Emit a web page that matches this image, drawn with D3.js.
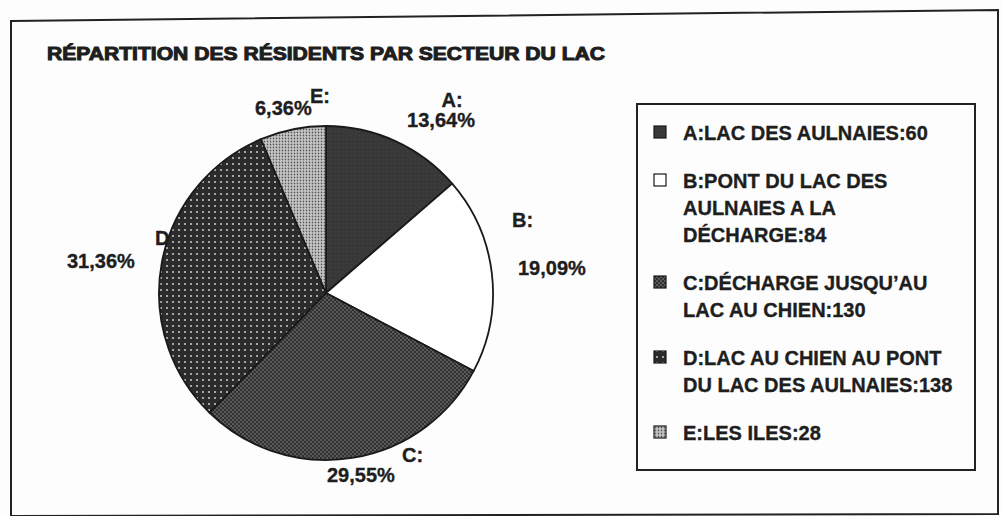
<!DOCTYPE html>
<html>
<head>
<meta charset="utf-8">
<script src="https://cdn.jsdelivr.net/npm/d3@7"></script>
<style>
  body { margin: 0; background: #fdfdfd; }
  text { font-family: "Liberation Sans", Arial, sans-serif; font-weight: bold; fill: #1e1e1e;
         stroke: #1e1e1e; stroke-width: 0.35; }
</style>
</head>
<body>
<div class="canvas"></div>
<script>
// data
const codes = ["A", "B", "C", "D", "E"];
const sectors = ["LAC DES AULNAIES", "PONT DU LAC DES AULNAIES A LA DÉCHARGE",
  "DÉCHARGE JUSQU’AU LAC AU CHIEN", "LAC AU CHIEN AU PONT DU LAC DES AULNAIES", "LES ILES"];
const residents = [60, 84, 130, 138, 28];
const title = "RÉPARTITION DES RÉSIDENTS PAR SECTEUR DU LAC";

const width = 1002, height = 516;
const cx = 326, cy = 293, radius = 167;

const svg = d3.select('.canvas')
  .append('svg')
  .attr('width', width)
  .attr('height', height);

// fill patterns, one per sector
const defs = svg.append('defs');

const pA = defs.append('pattern').attr('id', 'pat-A').attr('patternUnits', 'userSpaceOnUse')
  .attr('width', 4).attr('height', 4);
pA.append('rect').attr('width', 4).attr('height', 4).attr('fill', '#383838');
pA.append('rect').attr('x', 1).attr('y', 2).attr('width', 1).attr('height', 1).attr('fill', '#444');

const pB = defs.append('pattern').attr('id', 'pat-B').attr('patternUnits', 'userSpaceOnUse')
  .attr('width', 4).attr('height', 4);
pB.append('rect').attr('width', 4).attr('height', 4).attr('fill', '#ffffff');

const pC = defs.append('pattern').attr('id', 'pat-C').attr('patternUnits', 'userSpaceOnUse')
  .attr('width', 4).attr('height', 4);
pC.append('rect').attr('width', 4).attr('height', 4).attr('fill', '#303030');
pC.append('circle').attr('cx', 1).attr('cy', 1).attr('r', 0.7).attr('fill', '#a8a8a8');
pC.append('circle').attr('cx', 3).attr('cy', 3).attr('r', 0.7).attr('fill', '#a8a8a8');

const pD = defs.append('pattern').attr('id', 'pat-D').attr('patternUnits', 'userSpaceOnUse')
  .attr('width', 6).attr('height', 6);
pD.append('rect').attr('width', 6).attr('height', 6).attr('fill', '#2b2b2b');
pD.append('circle').attr('cx', 3).attr('cy', 3).attr('r', 1.0).attr('fill', '#cfcfcf');

const pE = defs.append('pattern').attr('id', 'pat-E').attr('patternUnits', 'userSpaceOnUse')
  .attr('width', 3).attr('height', 3);
pE.append('rect').attr('width', 3).attr('height', 3).attr('fill', '#d4d4d4');
pE.append('circle').attr('cx', 1.5).attr('cy', 1.5).attr('r', 0.9).attr('fill', '#555');
pE.append('circle').attr('cx', 0).attr('cy', 0).attr('r', 0.6).attr('fill', '#777');
pE.append('circle').attr('cx', 3).attr('cy', 3).attr('r', 0.6).attr('fill', '#777');

const fill = d3.scaleOrdinal().domain(codes).range(codes.map(c => `url(#pat-${c})`));

// outer frame (the scan is slightly tilted)
svg.append('path')
  .attr('d', 'M11,21 L998,10 L998,514 L11,516 Z')
  .attr('fill', 'none')
  .attr('stroke', '#222')
  .attr('stroke-width', 2);

// title
svg.append('text')
  .attr('x', 47).attr('y', 60)
  .attr('font-size', 18)
  .attr('textLength', 558)
  .attr('lengthAdjust', 'spacingAndGlyphs')
  .style('stroke-width', 1)
  .text(title);

// pie
const total = d3.sum(residents);
const table = codes.map((c, i) => ({ code: c, name: sectors[i], value: residents[i] }));
const pie = d3.pie().sort(null).value(d => d.value);
const arc = d3.arc().innerRadius(0).outerRadius(radius);

const graph = svg.append('g').attr('transform', `translate(${cx}, ${cy})`);
graph.selectAll('path')
  .data(pie(table))
  .join('path')
  .attr('d', arc)
  .attr('fill', d => fill(d.data.code))
  .attr('stroke', '#1a1a1a')
  .attr('stroke-width', 1.8)
  .attr('stroke-linejoin', 'round');

// slice labels: code on one line, percent on the next (positions as placed in the picture)
const pct = d3.format('.2f');
const labelPos = {
  A: { code: [452, 107, 'middle'], pct: [441, 127, 'middle'] },
  B: { code: [512, 227, 'start'], pct: [518, 275, 'start'] },
  C: { code: [402, 462, 'start'], pct: [327, 482, 'start'] },
  D: { code: [155, 245, 'start'], pct: [67, 268, 'start'] },
  E: { code: [310, 103, 'start'], pct: [255, 115, 'start'] }
};
table.forEach(d => {
  const p = labelPos[d.code];
  svg.append('text')
    .attr('x', p.code[0]).attr('y', p.code[1])
    .attr('text-anchor', p.code[2])
    .attr('font-size', 20)
    .text(d.code === 'D' ? 'D' : d.code + ':');
  svg.append('text')
    .attr('x', p.pct[0]).attr('y', p.pct[1])
    .attr('text-anchor', p.pct[2])
    .attr('font-size', 20)
    .text(pct(d.value / total * 100).replace('.', ',') + '%');
});

// legend
const legend = svg.append('g');
legend.append('rect')
  .attr('x', 637).attr('y', 104)
  .attr('width', 338).attr('height', 366)
  .attr('fill', '#fdfdfd')
  .attr('stroke', '#222')
  .attr('stroke-width', 2);

const maxLine = 282, lineH = 27, groupGap = 48;
let y = 140;
table.forEach(d => {
  const words = `${d.code}:${d.name}:${d.value}`.split(' ');
  const t = legend.append('text').attr('font-size', 20).attr('x', 683);
  // wrap words to the legend width
  const lines = [];
  let line = '';
  words.forEach(w => {
    const trial = line ? line + ' ' + w : w;
    t.text(trial);
    if (t.node().getComputedTextLength() > maxLine && line) {
      lines.push(line);
      line = w;
    } else {
      line = trial;
    }
  });
  lines.push(line);
  t.text(null);
  lines.forEach((l, i) => {
    t.append('tspan').attr('x', 683).attr('y', y + i * lineH).text(l);
  });
  legend.append('rect')
    .attr('x', 654).attr('y', y - 14)
    .attr('width', 12).attr('height', 12)
    .attr('fill', fill(d.code))
    .attr('stroke', '#1a1a1a')
    .attr('stroke-width', 1.2);
  y += (lines.length - 1) * lineH + groupGap;
});
</script>
</body>
</html>
